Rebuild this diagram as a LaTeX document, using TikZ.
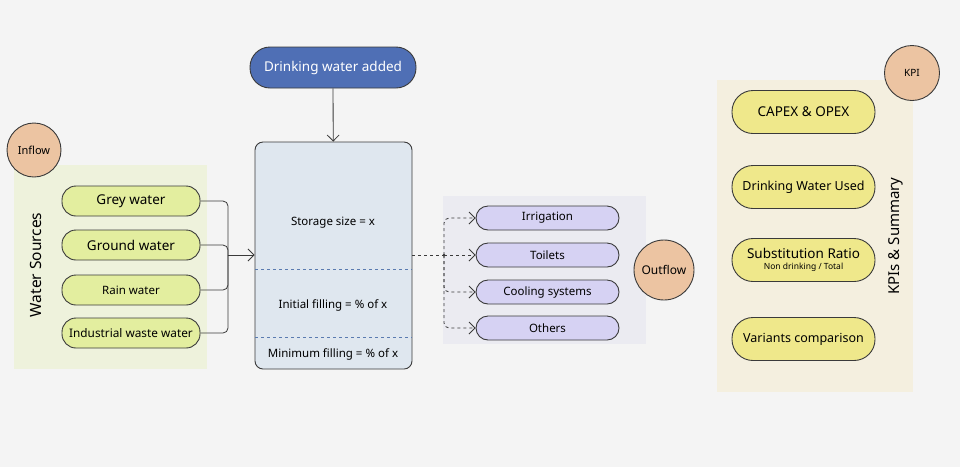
\documentclass[tikz,border=0pt]{standalone}
\usepackage{fontspec}
\setmainfont{Noto Sans}
\usetikzlibrary{arrows.meta}

\definecolor{bgc}{HTML}{F4F4F4}
\definecolor{inpanel}{HTML}{EEF2DC}
\definecolor{outpanel}{HTML}{EBEBF1}
\definecolor{kpipanel}{HTML}{F4EFDF}
\definecolor{greenpill}{HTML}{E3EE9F}
\definecolor{lilacpill}{HTML}{D6D2F3}
\definecolor{yellowpill}{HTML}{EFE88B}
\definecolor{peach}{HTML}{ECC4A2}
\definecolor{tankfill}{HTML}{DFE7EF}
\definecolor{bluepill}{HTML}{4F6FB5}
\definecolor{edge}{HTML}{3A3A3A}
\definecolor{level}{HTML}{5A7BB0}

\tikzset{
  pill/.style={draw=edge, line width=0.9pt, rounded corners=#1, inner sep=0pt, align=center},
  source/.style={pill=14pt, fill=greenpill, minimum width=138pt, minimum height=30pt},
  use/.style={pill=12pt, fill=lilacpill, minimum width=143pt, minimum height=24pt, font=\fontsize{11.5}{13}\selectfont},
  kpibox/.style={pill=21pt, fill=yellowpill, minimum width=143pt, minimum height=43pt},
  tag/.style={circle, draw=edge, line width=0.9pt, fill=peach, inner sep=0pt},
  link/.style={draw=edge, line width=0.8pt, rounded corners=5pt},
  tip/.style={-{Straight Barb[length=6pt,width=12pt]}}
}

\begin{document}
\begin{tikzpicture}[x=1pt,y=-1pt]
\useasboundingbox[fill=bgc] (0,0) rectangle (960,467);

% panels
\fill[inpanel] (14,165) rectangle (207,369);
\fill[outpanel] (443,196) rectangle (646,344);
\fill[kpipanel] (717,80) rectangle (913,392);

\node[rotate=90, font=\fontsize{15.5}{17}\selectfont] (wsrc) at (36,265) {Water Sources};
\node[rotate=90, font=\fontsize{15}{17}\selectfont] (kpis) at (896,236) {KPIs \& Summary};

% inflow
\node[source, font=\fontsize{13.5}{15}\selectfont] (grey) at (131,201) {Grey water};
\node[source, font=\fontsize{13.5}{15}\selectfont] (ground) at (131,245) {Ground water};
\node[source, font=\fontsize{11.5}{13}\selectfont] (rain) at (131,290) {Rain water};
\node[source, font=\fontsize{11.8}{13}\selectfont] (indus) at (131,333) {Industrial waste water};
\node[tag, minimum size=54pt, font=\fontsize{11}{12}\selectfont] (inflow) at (34,150) {Inflow};

% tank
\node[draw=edge, line width=0.9pt, fill=tankfill, rounded corners=8pt, minimum width=157pt, minimum height=227pt, inner sep=0pt] (tank) at (333.5,255.5) {};
\draw[level, dashed, line width=0.8pt] (255,269) -- (412,269);
\draw[level, dashed, line width=0.8pt] (255,337) -- (412,337);
\node[font=\fontsize{11.5}{13}\selectfont] (size) at (333,223) {Storage size = x};
\node[font=\fontsize{11.5}{13}\selectfont] (init) at (333,305) {Initial filling = \% of x};
\node[font=\fontsize{11.5}{13}\selectfont] (mini) at (333,354) {Minimum filling = \% of x};

\node[pill=20pt, fill=bluepill, text=white, minimum width=166pt, minimum height=41pt, font=\fontsize{13.5}{15}\selectfont] (drink) at (333,67.5) {Drinking water added};
\draw[link, tip] (drink) -- (tank);

% inflow links
\coordinate (jin) at (228,255);
\draw[link] (grey.east) -| (jin);
\draw[link] (ground.east) -| (jin);
\draw[link] (rain.east) -| (jin);
\draw[link] (indus.east) -| (jin);
\draw[link, tip] (jin) -- (tank.west |- jin);

% outflow
\node[use] (irr) at (547.5,218) {Irrigation};
\node[use] (toil) at (547.5,255) {Toilets};
\node[use] (cool) at (547.5,292) {Cooling systems};
\node[use] (oth) at (547.5,328) {Others};
\node[tag, minimum size=60pt, font=\fontsize{12}{13}\selectfont] (outflow) at (664,270) {Outflow};

\coordinate (jout) at (444,255);
\draw[link, dashed] (tank.east |- jout) -- (jout);
\fill[edge] (jout) circle (1.5pt);
\draw[link, dashed, tip] (jout) |- (irr.west);
\draw[link, dashed, tip] (jout) -- (toil.west);
\draw[link, dashed, tip] (jout) |- (cool.west);
\draw[link, dashed, tip] (jout) |- (oth.west);

% kpi
\node[kpibox, font=\fontsize{13.5}{15}\selectfont] (capex) at (803.5,112) {CAPEX \& OPEX};
\node[kpibox, font=\fontsize{12.5}{14}\selectfont] (dwu) at (803.5,187) {Drinking Water Used};
\node[kpibox] (subst) at (803.5,260) {{\fontsize{13.5}{14}\selectfont Substitution Ratio}\\[-1pt]{\fontsize{8.5}{9}\selectfont Non drinking / Total}};
\node[kpibox, font=\fontsize{12.5}{14}\selectfont] (vari) at (803.5,339) {Variants comparison};
\node[tag, minimum size=55pt, font=\fontsize{10}{11}\selectfont] (kpi) at (912,73) {KPI};
\end{tikzpicture}
\end{document}
